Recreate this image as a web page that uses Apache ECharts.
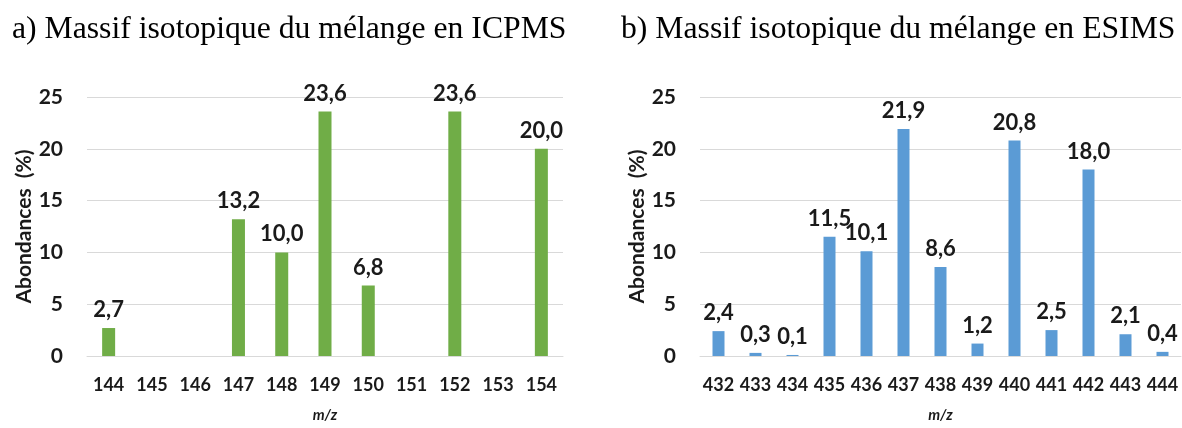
<!DOCTYPE html>
<html>
<head>
<meta charset="utf-8">
<title>Massif isotopique du mélange</title>
<script src="https://cdn.jsdelivr.net/npm/echarts@6/dist/echarts.min.js"></script>
<style>
  html, body { margin: 0; padding: 0; background: #ffffff; }
  #chart { width: 1182px; height: 428px; }
</style>
</head>
<body>
<div id="chart"></div>
<script>
// m/z categories and isotopic abundances (%)
const icpmsMasses = ['144', '145', '146', '147', '148', '149', '150', '151', '152', '153', '154'];
const icpmsValues = [2.7, null, null, 13.2, 10.0, 23.6, 6.8, null, 23.6, null, 20.0];

const esimsMasses = ['432', '433', '434', '435', '436', '437', '438', '439', '440', '441', '442', '443', '444'];
const esimsValues = [2.4, 0.3, 0.1, 11.5, 10.1, 21.9, 8.6, 1.2, 20.8, 2.5, 18.0, 2.1, 0.4];

const yTicks = [0, 5, 10, 15, 20, 25];

const titleA = 'a) Massif isotopique du mélange en ICPMS';
const titleB = 'b) Massif isotopique du mélange en ESIMS';

const textColor = '#1a1a1a';
const gridColor = '#d9d9d9';
const sansFont = 'Lato';

function fmt(v) {
  return v.toFixed(1).replace('.', ',');
}

function xAxisFor(cats, gridIndex, labelSize) {
  return {
    type: 'category',
    gridIndex: gridIndex,
    data: cats,
    axisTick: { show: false },
    axisLine: { show: true, lineStyle: { color: gridColor, width: 1 } },
    axisLabel: {
      color: textColor, fontFamily: sansFont, fontWeight: 'bold',
      fontSize: labelSize, margin: 20, interval: 0
    },
    name: 'm/z',
    nameLocation: 'middle',
    nameGap: 52,
    nameTextStyle: {
      color: textColor, fontFamily: sansFont, fontWeight: 'bold',
      fontStyle: 'italic', fontSize: 15
    }
  };
}

function yAxisFor(gridIndex) {
  return {
    type: 'value',
    gridIndex: gridIndex,
    min: yTicks[0],
    max: yTicks[yTicks.length - 1],
    interval: yTicks[1] - yTicks[0],
    axisLine: { show: false },
    axisTick: { show: false },
    splitLine: { lineStyle: { color: gridColor, width: 1 } },
    axisLabel: {
      color: textColor, fontFamily: sansFont, fontWeight: 'bold',
      fontSize: 21, margin: 24
    },
    name: 'Abondances  (%)',
    nameLocation: 'middle',
    nameRotate: 90,
    nameGap: 52,
    nameTextStyle: {
      color: textColor, fontFamily: sansFont, fontWeight: 'bold', fontSize: 21
    }
  };
}

function barSeries(values, axisIndex, color, width) {
  return {
    type: 'bar',
    xAxisIndex: axisIndex,
    yAxisIndex: axisIndex,
    data: values,
    barWidth: width,
    itemStyle: { color: color },
    label: {
      show: true,
      position: 'top',
      distance: 7,
      color: textColor,
      fontFamily: sansFont,
      fontWeight: 'bold',
      fontSize: 22,
      formatter: p => (p.value == null ? '' : fmt(p.value))
    }
  };
}

const chart = echarts.init(document.getElementById('chart'), null, { renderer: 'canvas' });

chart.setOption({
  backgroundColor: '#ffffff',
  animation: false,
  title: [
    {
      text: titleA, left: 7, top: 9,
      textStyle: { fontFamily: 'Liberation Serif', fontWeight: 'normal', fontSize: 31.7, color: '#000' }
    },
    {
      text: titleB, left: 616, top: 9,
      textStyle: { fontFamily: 'Liberation Serif', fontWeight: 'normal', fontSize: 31.7, color: '#000' }
    }
  ],
  grid: [
    { left: 87, width: 476, top: 97, bottom: 65 },
    { left: 700, width: 481, top: 97, bottom: 62 }
  ],
  xAxis: [
    xAxisFor(icpmsMasses, 0, 18),
    xAxisFor(esimsMasses, 1, 18)
  ],
  yAxis: [
    yAxisFor(0),
    yAxisFor(1)
  ],
  series: [
    barSeries(icpmsValues, 0, '#70ad47', 13),
    barSeries(esimsValues, 1, '#5b9bd5', 12)
  ]
});
</script>
</body>
</html>
